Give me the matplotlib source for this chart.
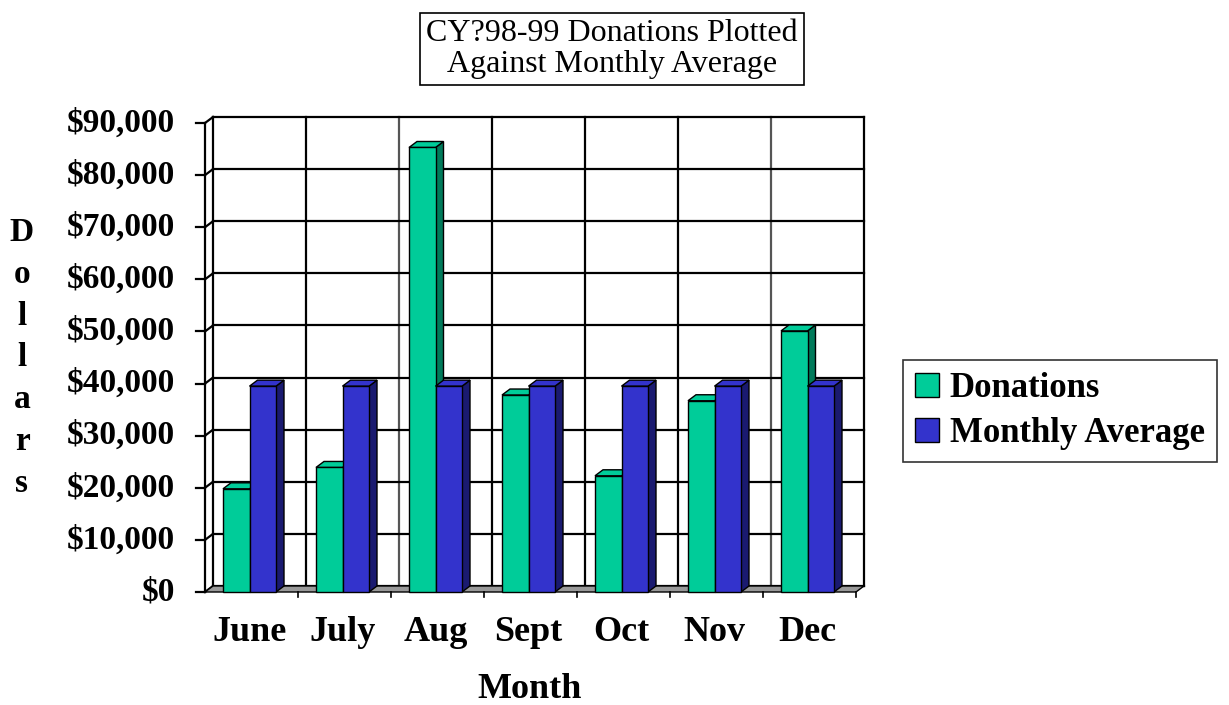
"""CY'98-99 donations vs monthly average, Excel-style 3D column chart."""

import matplotlib.pyplot as plt
from matplotlib.patches import Polygon, Rectangle, Patch

months = ['June', 'July', 'Aug', 'Sept', 'Oct', 'Nov', 'Dec']
donations = [19800, 23900, 85300, 37800, 22300, 36700, 50100]
monthly_avg = [39500, 39500, 39500, 39500, 39500, 39500, 39500]
y_ticks = list(range(0, 90001, 10000))
y_labels = ['$0'] + [f'${v:,}' for v in y_ticks[1:]]

serif = 'Liberation Serif'
green, green_side = '#00CC99', '#007a5a'
blue, blue_side = '#3333CC', '#1a1a70'

W, H = 1229, 705
fig = plt.figure(figsize=(W / 100, H / 100), dpi=100)
ax = fig.add_axes([205 / W, (H - 592) / H, 651 / W, 469 / H])
ax.set_xlim(0, len(months))
ax.set_ylim(0, 90000)
ax.axis('off')

# depth of the 3D effect in data units (about 8 px right, 6 px up)
dx = 8 / 93
dy = 6 / 469 * 90000
line_kw = dict(color='black', lw=1.6, clip_on=False, zorder=1)

# back wall grid
n = len(months)
for i in range(n + 1):
    c = '#555555' if i in (2, 6) else 'black'
    ax.plot([i + dx, i + dx], [dy, 90000 + dy], **{**line_kw, 'color': c})
for v in y_ticks:
    ax.plot([dx, n + dx], [v + dy, v + dy], **line_kw)
    # left wall diagonals
    ax.plot([0, dx], [v, v + dy], **line_kw)
    # y tick
    ax.plot([-0.1, 0], [v, v], **line_kw)
ax.plot([0, 0], [0, 90000], **line_kw)

# floor
floor = Polygon([(0, 0), (n, 0), (n + dx, dy), (dx, dy)], closed=True,
                facecolor='#999999', edgecolor='black', lw=1, clip_on=False, zorder=2)
ax.add_patch(floor)
for i in range(1, n + 1):
    ax.plot([i, i], [0, -1000], color='black', lw=1.2, clip_on=False, zorder=2)


def bar3d(x, w, h, front, side, z):
    ax.add_patch(Polygon([(x + w, 0), (x + w + dx, dy), (x + w + dx, h + dy), (x + w, h)],
                         closed=True, facecolor=side, edgecolor='black', lw=1,
                         clip_on=False, zorder=z))
    ax.add_patch(Polygon([(x, h), (x + w, h), (x + w + dx, h + dy), (x + dx, h + dy)],
                         closed=True, facecolor=front, edgecolor='black', lw=1,
                         clip_on=False, zorder=z))
    ax.add_patch(Rectangle((x, 0), w, h, facecolor=front, edgecolor='black', lw=1,
                           clip_on=False, zorder=z))


bw = 26.5 / 93
off = 18 / 93
for i in range(n):
    bar3d(i + off, bw, donations[i], green, green_side, 3)
    bar3d(i + off + bw, bw, monthly_avg[i], blue, blue_side, 4)

# tick labels
for v, lab in zip(y_ticks, y_labels):
    ax.text(-0.32, v, lab, ha='right', va='center', fontsize=24,
            fontweight='bold', family=serif)
for i, m in enumerate(months):
    ax.text(i + 0.48, -7700, m, ha='center', va='center', fontsize=26,
            fontweight='bold', family=serif)

fig.text(530 / W, 1 - 690 / H, 'Month', ha='center', va='center', fontsize=26,
         fontweight='bold', family=serif)
fig.text(22 / W, 1 - 358 / H, '\n'.join('Dollars'), ha='center', va='center',
         fontsize=24, fontweight='bold', family=serif, linespacing=1.45)

fig.text(612 / W, 1 - 49 / H, 'CY?98-99 Donations Plotted\nAgainst Monthly Average',
         ha='center', va='center', fontsize=23, family=serif, linespacing=1.05,
         bbox=dict(boxstyle='square,pad=0.2', facecolor='white', edgecolor='black', lw=1.2))

handles = [Patch(facecolor=green, edgecolor='black', label='Donations'),
           Patch(facecolor=blue, edgecolor='black', label='Monthly Average')]
leg = fig.legend(handles=handles, loc='center', bbox_to_anchor=(1060 / W, 1 - 411 / H),
                 prop=dict(family=serif, weight='bold', size=25), frameon=True,
                 fancybox=False, edgecolor='black', handlelength=0.7, handleheight=0.7,
                 handletextpad=0.3, borderpad=0.35, labelspacing=0.35)
leg.get_frame().set_linewidth(1.2)

fig.savefig('out.png', dpi=100)
